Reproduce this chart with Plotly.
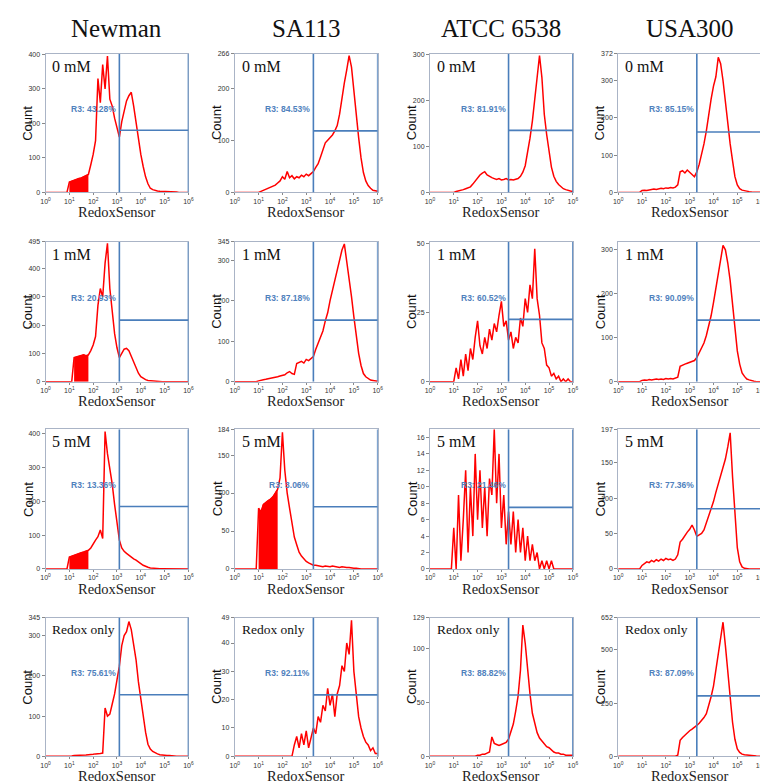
import plotly.graph_objects as go
import numpy as np

strains = ["Newman", "SA113", "ATCC 6538", "USA300"]
conditions = ["0 mM", "1 mM", "5 mM", "Redox only"]

# histogram bins: log10 of RedoxSensor intensity, 10^1 .. 10^6 in 0.1 decade steps
exps = np.round(np.arange(1.0, 6.01, 0.1), 1)

newman_0mM = [30, 33, 35, 38, 40, 42, 45, 48, 52, 80,
              110, 150, 330, 260, 370, 300, 395, 270, 250, 215,
              185, 160, 205, 240, 265, 280, 290, 250, 200, 150,
              110, 75, 45, 25, 12, 8, 5, 4, 3, 3,
              2, 2, 1, 2, 1, 1, 0, 1, 0, 0, 0]
sa113_0mM = [0, 2, 4, 6, 8, 10, 12, 14, 18, 22,
             30, 25, 40, 28, 32, 26, 30, 28, 33, 30,
             35, 32, 36, 40, 48, 55, 68, 80, 95, 100,
             105, 110, 118, 128, 150, 185, 210, 235, 262, 240,
             190, 140, 105, 66, 38, 22, 13, 8, 4, 3, 2]
atcc_0mM = [0, 2, 3, 4, 6, 8, 10, 12, 18, 25,
            32, 38, 42, 45, 38, 34, 32, 30, 28, 30,
            27, 28, 30, 27, 28, 27, 28, 30, 35, 44,
            58, 85, 118, 155, 205, 245, 298, 250, 170, 126,
            85, 55, 35, 24, 17, 12, 8, 6, 4, 3, 2]
usa300_0mM = [5, 6, 5, 7, 8, 9, 8, 10, 11, 10,
              12, 11, 13, 12, 14, 20, 55, 58, 52, 60,
              55, 48, 42, 55, 75, 100, 130, 165, 210, 250,
              285, 310, 362, 345, 300, 240, 185, 130, 85, 42,
              20, 10, 6, 4, 3, 2, 1, 1, 0, 0, 0]

newman_1mM = [0, 0, 85, 88, 90, 92, 95, 92, 95, 110,
              130, 160, 270, 330, 300, 420, 490, 330, 240, 170,
              120, 85, 100, 115, 118, 110, 90, 70, 48, 30,
              18, 12, 7, 4, 3, 2, 1, 1, 0, 0,
              0, 0, 0, 0, 0, 0, 0, 0, 0, 0, 0]
sa113_1mM = [2, 4, 5, 6, 7, 8, 9, 10, 12, 14,
             15, 17, 22, 25, 20, 18, 45, 48, 50, 46,
             55, 52, 58, 62, 80, 95, 110, 125, 150, 170,
             200, 225, 250, 280, 305, 325, 340, 300, 255, 210,
             160, 110, 70, 40, 20, 12, 7, 4, 3, 2, 1]
atcc_1mM = [0, 5, 1, 8, 2, 10, 4, 12, 8, 16,
            22, 13, 10, 16, 12, 19, 15, 21, 18, 24,
            29, 20, 22, 15, 18, 12, 16, 14, 23, 20,
            30, 25, 35, 30, 48, 30, 24, 14, 12, 6,
            5, 2, 3, 1, 2, 0, 1, 0, 1, 0, 0]
usa300_1mM = [3, 4, 3, 5, 4, 5, 6, 5, 6, 5,
              7, 6, 7, 6, 8, 10, 35, 38, 40, 42,
              44, 46, 48, 55, 66, 75, 88, 105, 125, 150,
              180, 215, 250, 285, 310, 300, 270, 230, 175, 120,
              70, 40, 20, 12, 6, 4, 2, 1, 0, 0, 0]

newman_5mM = [35, 38, 40, 42, 45, 48, 50, 52, 55, 62,
              75, 85, 95, 115, 90, 405, 340, 300, 250, 190,
              130, 85, 62, 52, 46, 40, 34, 30, 26, 22,
              16, 11, 7, 5, 3, 2, 2, 1, 1, 1,
              1, 0, 0, 0, 0, 0, 0, 0, 0, 0, 0]
sa113_5mM = [80, 75, 85, 88, 90, 92, 95, 100, 105, 120,
             180, 130, 100, 80, 58, 42, 32, 22, 17, 13,
             10, 8, 6, 5, 5, 4, 4, 3, 4, 3,
             3, 4, 3, 3, 2, 3, 2, 2, 2, 1,
             1, 1, 0, 0, 0, 0, 0, 0, 0, 0, 0]
atcc_5mM = [5, 0, 9, 1, 6, 12, 2, 10, 4, 14,
            6, 12, 5, 10, 4, 11, 9, 17, 8, 14,
            5, 9, 3, 7, 3, 7, 2, 6, 2, 5,
            1, 4, 1, 3, 1, 2, 0, 1, 0, 1,
            0, 1, 0, 0, 0, 0, 0, 0, 0, 0, 0]
usa300_5mM = [5, 8, 10, 9, 12, 10, 13, 11, 14, 12,
              15, 13, 14, 12, 14, 20, 38, 42, 48, 52,
              56, 62, 55, 46, 48, 50, 55, 65, 74, 84,
              95, 108, 120, 130, 142, 155, 172, 192, 130, 75,
              30, 10, 3, 1, 0, 0, 0, 0, 0, 0, 0]

newman_redox = [1, 1, 2, 2, 2, 3, 3, 3, 4, 4,
                5, 6, 6, 7, 8, 120, 100, 105, 130, 155,
                190, 224, 275, 300, 310, 335, 315, 280, 240, 185,
                140, 95, 60, 30, 18, 12, 8, 6, 4, 3,
                3, 2, 2, 1, 1, 0, 0, 0, 0, 0, 0]
sa113_redox = [0, 0, 0, 0, 0, 0, 0, 0, 0, 0,
               0, 0, 0, 0, 0, 4, 7, 3, 8, 4,
               9, 3, 7, 10, 8, 14, 12, 18, 16, 24,
               18, 22, 14, 22, 25, 32, 30, 40, 36, 48,
               30, 22, 14, 10, 7, 5, 4, 2, 3, 1, 1]
atcc_redox = [0, 0, 0, 0, 0, 0, 0, 0, 0, 0,
              1, 1, 2, 2, 3, 4, 18, 12, 11, 10,
              11, 12, 13, 16, 22, 30, 42, 56, 80, 122,
              105, 80, 58, 40, 30, 22, 17, 14, 11, 9,
              8, 6, 4, 3, 3, 2, 2, 1, 1, 1, 1]
usa300_redox = [0, 0, 0, 0, 0, 0, 0, 0, 0, 0,
                0, 0, 0, 0, 0, 5, 75, 88, 100, 112,
                120, 128, 135, 145, 155, 168, 182, 200, 235, 280,
                330, 400, 480, 560, 630, 520, 400, 290, 160, 80,
                35, 18, 10, 7, 5, 4, 3, 2, 1, 1, 0]

counts = [[newman_0mM, sa113_0mM, atcc_0mM, usa300_0mM],
          [newman_1mM, sa113_1mM, atcc_1mM, usa300_1mM],
          [newman_5mM, sa113_5mM, atcc_5mM, usa300_5mM],
          [newman_redox, sa113_redox, atcc_redox, usa300_redox]]

# low-intensity ranges where the histogram is so dense it reads as solid red
dense_ranges = {(0, 0): (1.0, 1.8), (1, 0): (1.2, 1.8),
                (2, 0): (1.0, 1.8), (2, 1): (1.0, 1.8)}

y_max = [[402, 266, 302, 372],
         [495, 345, 50.5, 318],
         [412, 184, 17, 197],
         [345, 49, 129, 652]]
y_ticks = [[[0, 100, 200, 300, 400], [0, 100, 200, 266], [0, 100, 200, 300], [0, 100, 200, 300, 372]],
           [[0, 100, 200, 300, 400, 495], [0, 100, 200, 300, 345], [0, 25, 50], [0, 100, 200, 300]],
           [[0, 100, 200, 300, 400], [0, 50, 100, 150, 184], list(range(0, 17, 2)), [0, 50, 100, 150, 197]],
           [[0, 100, 200, 300, 345], [0, 10, 20, 30, 40, 49], [0, 50, 100, 129], [0, 250, 500, 652]]]

gate_x = [3.1, 3.3, 3.3, 3.3]
gate_y = [[180, 118, 135, 162],
          [218, 152, 22.5, 140],
          [184, 82, 7.5, 85],
          [153, 21.7, 57, 284]]
r3_text = [["R3: 43.28%", "R3: 84.53%", "R3: 81.91%", "R3: 85.15%"],
           ["R3: 20.93%", "R3: 87.18%", "R3: 60.52%", "R3: 90.09%"],
           ["R3: 13.36%", "R3: 3.06%", "R3: 21.46%", "R3: 77.36%"],
           ["R3: 75.61%", "R3: 92.11%", "R3: 88.82%", "R3: 87.09%"]]

W, H = 768, 784
col_left = [33, 225, 423, 614]
col_right = [178, 370, 568, 759]
row_top = [42, 232, 421, 611]
row_bottom = [182, 373, 562, 751]

serif = "Liberation Serif, Times New Roman, serif"
sans = "Liberation Sans, Arial, sans-serif"
frame = "#aab4c6"
gate_col = "#4a7ebb"

x_full = np.concatenate([[0.0, 0.9], exps])

fig = go.Figure()
layout = {}
shapes = []
annotations = []

for r in range(4):
    for c in range(4):
        k = r * 4 + c + 1
        sx = "" if k == 1 else str(k)
        xref, yref = "x" + sx, "y" + sx
        vals = counts[r][c]
        if (r, c) in dense_ranges:
            lo, hi = dense_ranges[(r, c)]
            m = (exps >= lo - 1e-9) & (exps <= hi + 1e-9)
            fig.add_trace(go.Scatter(x=exps[m], y=np.array(vals)[m], mode="lines",
                                     fill="tozeroy", fillcolor="#ff0000",
                                     line=dict(color="#ff0000", width=1),
                                     xaxis=xref, yaxis=yref, showlegend=False,
                                     hoverinfo="skip"))
        fig.add_trace(go.Scatter(x=x_full, y=[0, 0] + vals, mode="lines",
                                 line=dict(color="#ff0000", width=1.5),
                                 xaxis=xref, yaxis=yref, showlegend=False,
                                 hoverinfo="skip"))
        layout["xaxis" + sx] = dict(
            domain=[col_left[c] / W, col_right[c] / W], anchor=yref,
            range=[0, 6], tickvals=list(range(7)),
            ticktext=["10<sup>%d</sup>" % i for i in range(7)],
            tickfont=dict(family=sans, size=7, color="#333"),
            ticks="outside", ticklen=2, tickcolor="#888",
            showline=True, linecolor=frame, mirror=True,
            showgrid=False, zeroline=False)
        layout["yaxis" + sx] = dict(
            domain=[1 - row_bottom[r] / H, 1 - row_top[r] / H], anchor=xref,
            range=[0, y_max[r][c]], tickvals=y_ticks[r][c],
            tickfont=dict(family=sans, size=7, color="#333"),
            ticks="outside", ticklen=3, tickcolor="#888",
            showline=True, linecolor=frame, mirror=True,
            showgrid=False, zeroline=False)

        g = gate_x[c]
        line = dict(color=gate_col, width=1.6)
        shapes.append(dict(type="line", xref=xref, yref=yref, x0=g, x1=g,
                           y0=0, y1=y_max[r][c], line=line))
        shapes.append(dict(type="line", xref=xref, yref=yref, x0=6, x1=6,
                           y0=0, y1=y_max[r][c], line=line))
        shapes.append(dict(type="line", xref=xref, yref=yref, x0=g, x1=6,
                           y0=gate_y[r][c], y1=gate_y[r][c], line=line))

        annotations.append(dict(x=g, y=0.6 * y_max[r][c], xref=xref, yref=yref,
                                text="<b>" + r3_text[r][c] + "</b>", showarrow=False,
                                xanchor="right", yanchor="middle", xshift=-1,
                                font=dict(family=sans, size=8.5, color="#4f81bd")))
        lab_size = 13.5 if r == 3 else 16
        annotations.append(dict(x=(col_left[c] + 5) / W, y=1 - (row_top[r] + 2) / H,
                                xref="paper", yref="paper", text=conditions[r],
                                showarrow=False, xanchor="left", yanchor="top",
                                font=dict(family=serif, size=lab_size, color="#111")))
        annotations.append(dict(x=(col_left[c] - 18) / W,
                                y=1 - (row_top[r] + row_bottom[r]) / 2 / H,
                                xref="paper", yref="paper", text="Count", textangle=-90,
                                showarrow=False, xanchor="center", yanchor="middle",
                                font=dict(family=sans, size=13, color="#111")))
        annotations.append(dict(x=(col_left[c] + col_right[c]) / 2 / W,
                                y=1 - (row_bottom[r] + 20) / H,
                                xref="paper", yref="paper", text="RedoxSensor",
                                showarrow=False, xanchor="center", yanchor="middle",
                                font=dict(family=serif, size=14.5, color="#222")))

for c in range(4):
    annotations.append(dict(x=(col_left[c] + col_right[c]) / 2 / W, y=1 - 17 / H,
                            xref="paper", yref="paper", text=strains[c],
                            showarrow=False, xanchor="center", yanchor="middle",
                            font=dict(family=serif, size=25, color="#111")))

fig.update_layout(**layout)
fig.update_layout(width=W, height=H, margin=dict(l=0, r=0, t=0, b=0),
                  paper_bgcolor="white", plot_bgcolor="white",
                  shapes=shapes, annotations=annotations)

fig.write_html("out.html")
